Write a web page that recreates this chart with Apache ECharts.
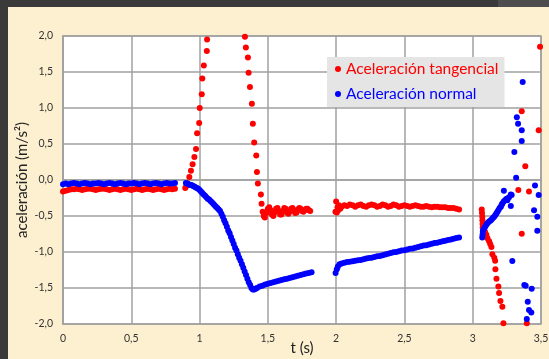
<!DOCTYPE html>
<html>
<head>
<meta charset="utf-8">
<script src="https://cdn.jsdelivr.net/npm/echarts@6/dist/echarts.min.js"></script>
<style>html,body{margin:0;padding:0;background:#fdf0d0;overflow:hidden;width:549px;height:359px;}#c{width:549px;height:359px;overflow:hidden;}</style>
</head>
<body>
<div id="c"></div>
<script>
// ---- data (t in s, acceleration in m/s^2) ----
const seriesNames = ['Aceleración tangencial', 'Aceleración normal'];
const xTickLabels = ['0', '0,5', '1', '1,5', '2', '2,5', '3', '3,5'];
const yTickLabels = ['-2,0', '-1,5', '-1,0', '-0,5', '0,0', '0,5', '1,0', '1,5', '2,0'];

const tangFlat = [[0,-0.16],[0.02,-0.15],[0.04,-0.14],[0.06,-0.13],[0.08,-0.13],[0.10,-0.12],[0.12,-0.13],[0.14,-0.14],[0.16,-0.13],[0.18,-0.12],[0.20,-0.12],[0.22,-0.13],[0.24,-0.14],[0.26,-0.13],[0.28,-0.12],[0.30,-0.12],[0.32,-0.13],[0.34,-0.14],[0.36,-0.13],[0.38,-0.12],[0.40,-0.13],[0.42,-0.14],[0.44,-0.13],[0.46,-0.12],[0.48,-0.13],[0.50,-0.14],[0.52,-0.13],[0.54,-0.12],[0.56,-0.13],[0.58,-0.14],[0.60,-0.13],[0.62,-0.12],[0.64,-0.13],[0.66,-0.14],[0.68,-0.13],[0.70,-0.12],[0.72,-0.13],[0.74,-0.14],[0.76,-0.13],[0.78,-0.12],[0.80,-0.13],[0.82,-0.12]];
const tangRise = [[0.895,-0.11],[0.905,-0.08],[0.912,-0.05],[0.925,0.04],[0.937,0.13],[0.949,0.22],[0.962,0.32],[0.974,0.43],[0.982,0.65],[0.997,0.79],[1.001,1.00],[1.016,1.19],[1.020,1.41],[1.031,1.59],[1.053,1.79],[1.055,1.95]];
const tangFall = [[1.332,1.99],[1.339,1.84],[1.354,1.70],[1.359,1.49],[1.369,1.29],[1.383,1.06],[1.390,0.78],[1.400,0.52],[1.415,0.34],[1.420,0.11],[1.427,-0.05],[1.449,-0.20],[1.454,-0.33]];
const tangOsc = [[1.462,-0.44],[1.470,-0.50],[1.478,-0.52],[1.490,-0.46],[1.500,-0.40],[1.510,-0.38],[1.520,-0.42],[1.530,-0.48],[1.540,-0.50],[1.550,-0.45],[1.560,-0.40],[1.570,-0.39],[1.580,-0.43],[1.590,-0.48],[1.600,-0.48],[1.610,-0.43],[1.620,-0.39],[1.630,-0.40],[1.640,-0.45],[1.650,-0.47],[1.660,-0.44],[1.670,-0.40],[1.680,-0.39],[1.690,-0.42],[1.700,-0.46],[1.710,-0.45],[1.720,-0.41],[1.730,-0.39],[1.740,-0.40],[1.750,-0.43],[1.760,-0.44],[1.770,-0.42],[1.780,-0.40],[1.790,-0.40],[1.800,-0.42],[1.810,-0.43]];
const tangMid = [[1.995,-0.44],[2.000,-0.30],[2.005,-0.45],[2.010,-0.38],[2.015,-0.42],[2.020,-0.35],[2.030,-0.40],[2.040,-0.37],[2.060,-0.35],[2.080,-0.36],[2.100,-0.34],[2.120,-0.35],[2.140,-0.37],[2.160,-0.35],[2.180,-0.34],[2.200,-0.36],[2.220,-0.37],[2.240,-0.35],[2.260,-0.34],[2.280,-0.35],[2.300,-0.37],[2.320,-0.36],[2.340,-0.34],[2.360,-0.35],[2.380,-0.37],[2.400,-0.36],[2.420,-0.34],[2.440,-0.35],[2.460,-0.37],[2.480,-0.36],[2.500,-0.35],[2.520,-0.36],[2.540,-0.37],[2.560,-0.36],[2.580,-0.35],[2.600,-0.36],[2.620,-0.37],[2.640,-0.37],[2.660,-0.36],[2.680,-0.37],[2.700,-0.38],[2.720,-0.37],[2.740,-0.37],[2.760,-0.38],[2.780,-0.38],[2.800,-0.38],[2.820,-0.39],[2.840,-0.39],[2.860,-0.39],[2.880,-0.40],[2.900,-0.41]];
const tangEnd = [[3.066,-0.41],[3.068,-0.46],[3.070,-0.51],[3.071,-0.56],[3.072,-0.61],[3.073,-0.66],[3.075,-0.71],[3.080,-0.75],[3.090,-0.72],[3.100,-0.76],[3.108,-0.81],[3.120,-0.85],[3.128,-0.89],[3.137,-0.93],[3.144,-1.03],[3.158,-1.08],[3.164,-1.12],[3.166,-1.24],[3.174,-1.37],[3.188,-1.48],[3.193,-1.57],[3.203,-1.68],[3.217,-1.76],[3.225,-1.99]];
const tangScatter = [[3.493,1.85],[3.359,0.955],[3.483,0.69],[3.385,0.19],[3.334,-0.14],[3.412,-0.16],[3.359,-0.745],[3.396,-1.99]];

const normFlat = [[0,-0.06],[0.02,-0.05],[0.04,-0.06],[0.06,-0.05],[0.08,-0.04],[0.10,-0.05],[0.12,-0.06],[0.14,-0.05],[0.16,-0.04],[0.18,-0.05],[0.20,-0.06],[0.22,-0.05],[0.24,-0.05],[0.26,-0.04],[0.28,-0.05],[0.30,-0.06],[0.32,-0.05],[0.34,-0.04],[0.36,-0.05],[0.38,-0.06],[0.40,-0.05],[0.42,-0.04],[0.44,-0.05],[0.46,-0.06],[0.48,-0.05],[0.50,-0.05],[0.52,-0.04],[0.54,-0.05],[0.56,-0.06],[0.58,-0.05],[0.60,-0.04],[0.62,-0.05],[0.64,-0.06],[0.66,-0.05],[0.68,-0.04],[0.70,-0.05],[0.72,-0.06],[0.74,-0.05],[0.76,-0.04],[0.78,-0.05],[0.80,-0.05],[0.82,-0.04]];
const normFall = [[0.900,-0.04],[0.910,-0.05],[0.920,-0.06],[0.930,-0.07],[0.940,-0.07],[0.950,-0.08],[0.960,-0.09],[0.970,-0.10],[0.980,-0.11],[0.990,-0.12],[1.000,-0.14],[1.010,-0.16],[1.020,-0.18],[1.030,-0.20],[1.040,-0.22],[1.050,-0.24],[1.060,-0.26],[1.070,-0.27],[1.080,-0.29],[1.090,-0.31],[1.100,-0.33],[1.110,-0.35],[1.120,-0.37],[1.130,-0.39],[1.140,-0.41],[1.150,-0.43],[1.160,-0.47],[1.170,-0.51],[1.180,-0.56],[1.190,-0.60],[1.200,-0.65],[1.210,-0.70],[1.220,-0.74],[1.230,-0.79],[1.240,-0.84],[1.250,-0.89],[1.260,-0.94],[1.270,-0.98],[1.280,-1.03],[1.290,-1.08],[1.300,-1.12],[1.310,-1.17],[1.320,-1.22],[1.330,-1.27],[1.340,-1.32],[1.350,-1.37],[1.360,-1.42],[1.370,-1.46],[1.380,-1.50],[1.390,-1.52]];
const normRise1 = [[1.400,-1.52],[1.410,-1.51],[1.420,-1.50],[1.440,-1.48],[1.460,-1.47],[1.480,-1.45],[1.500,-1.44],[1.520,-1.43],[1.540,-1.42],[1.560,-1.41],[1.580,-1.40],[1.600,-1.39],[1.620,-1.38],[1.640,-1.37],[1.660,-1.36],[1.680,-1.35],[1.700,-1.34],[1.720,-1.33],[1.740,-1.32],[1.760,-1.31],[1.780,-1.30],[1.800,-1.29],[1.820,-1.28]];
const normRise2 = [[1.996,-1.29],[2.005,-1.24],[2.013,-1.20],[2.025,-1.17],[2.040,-1.16],[2.060,-1.15],[2.080,-1.14],[2.100,-1.135],[2.120,-1.13],[2.140,-1.12],[2.160,-1.115],[2.180,-1.11],[2.200,-1.10],[2.220,-1.09],[2.240,-1.085],[2.260,-1.08],[2.280,-1.07],[2.300,-1.06],[2.320,-1.055],[2.340,-1.045],[2.360,-1.035],[2.380,-1.025],[2.400,-1.015],[2.420,-1.005],[2.440,-1.00],[2.460,-0.99],[2.480,-0.98],[2.500,-0.975],[2.520,-0.965],[2.540,-0.955],[2.560,-0.95],[2.580,-0.94],[2.600,-0.93],[2.620,-0.92],[2.640,-0.91],[2.660,-0.905],[2.680,-0.895],[2.700,-0.885],[2.720,-0.875],[2.740,-0.87],[2.760,-0.86],[2.780,-0.85],[2.800,-0.845],[2.820,-0.835],[2.840,-0.825],[2.860,-0.815],[2.880,-0.805],[2.900,-0.80]];
const normEnd = [[3.070,-0.80],[3.072,-0.76],[3.074,-0.72],[3.078,-0.69],[3.084,-0.67],[3.092,-0.645],[3.100,-0.62],[3.108,-0.60],[3.116,-0.585],[3.125,-0.57],[3.133,-0.56],[3.141,-0.54],[3.149,-0.525],[3.157,-0.51],[3.165,-0.49],[3.173,-0.465],[3.181,-0.44],[3.189,-0.415],[3.197,-0.39],[3.206,-0.37],[3.212,-0.345],[3.217,-0.325],[3.227,-0.30],[3.237,-0.28],[3.246,-0.265],[3.254,-0.256],[3.266,-0.24],[3.279,-0.20],[3.285,-0.21],[3.228,-0.15],[3.279,-0.36],[3.254,-0.28]];
const normScatter = [[3.366,1.36],[3.323,0.87],[3.332,0.78],[3.359,0.69],[3.359,0.54],[3.305,0.39],[3.318,0.03],[3.456,-0.076],[3.483,-0.21],[3.449,-0.42],[3.473,-0.51],[3.473,-0.705],[3.290,-1.125],[3.378,-1.46],[3.388,-1.47],[3.432,-1.51],[3.403,-1.69],[3.412,-1.805],[3.429,-1.84],[3.396,-1.93]];

const tangData = [].concat(tangFlat, tangRise, tangFall, tangOsc, tangMid, tangEnd, tangScatter);
const normData = [].concat(normFlat, normFall, normRise1, normRise2, normEnd, normScatter);

const FONT = 'Lato';
const chart = echarts.init(document.getElementById('c'), null, {renderer: 'canvas'});
chart.setOption({
  animation: false,
  backgroundColor: '#fdf0d0',
  textStyle: {fontFamily: FONT},
  graphic: [
    {type: 'rect', z: -10, silent: true, shape: {x: 0, y: 0, width: 549, height: 7}, style: {fill: '#3a3a3a'}},
    {type: 'rect', z: -10, silent: true, shape: {x: 498, y: 0, width: 51, height: 7}, style: {fill: '#4d4d4d'}},
    {type: 'rect', z: -10, silent: true, shape: {x: 0, y: 0, width: 8, height: 359}, style: {fill: '#3a3a3a'}},
    {type: 'rect', z: 100, silent: true, shape: {x: 543, y: 240, width: 6, height: 90}, style: {fill: '#fdf0d0'}}
  ],
  grid: {left: 63, right: 8, top: 36, bottom: 35, containLabel: false, outerBoundsMode: 'none',
    show: true, backgroundColor: '#ffffff', borderColor: '#a0a0a0', borderWidth: 1.5},
  legend: {
    left: 327, top: 57, orient: 'vertical',
    backgroundColor: '#e5e5e5', padding: [4, 6, 5, 8], itemGap: 9,
    icon: 'circle', itemWidth: 6, itemHeight: 6,
    textStyle: {fontFamily: FONT, fontSize: 15.5, lineHeight: 16},
    data: [
      {name: seriesNames[0], textStyle: {color: '#ff0000'}},
      {name: seriesNames[1], textStyle: {color: '#0000ff'}}
    ]
  },
  xAxis: {
    type: 'value', min: 0, max: 3.5, interval: 0.5,
    name: 't (s)', nameLocation: 'middle', nameGap: 17, nameMoveOverlap: false,
    nameTextStyle: {fontFamily: FONT, fontSize: 15, color: '#222'},
    axisLine: {show: true, lineStyle: {color: '#a0a0a0', width: 1.5}},
    axisTick: {show: false},
    splitLine: {show: true, lineStyle: {color: '#a0a0a0', width: 1.5}},
    axisLabel: {fontFamily: FONT, fontSize: 10.5, color: '#333', margin: 9,
      formatter: v => xTickLabels[Math.round(v / 0.5)]}
  },
  yAxis: {
    type: 'value', min: -2, max: 2, interval: 0.5,
    name: 'aceleración (m/s²)', nameLocation: 'middle', nameGap: 33, nameMoveOverlap: false,
    nameTextStyle: {fontFamily: FONT, fontSize: 15, color: '#222'},
    axisLine: {show: true, lineStyle: {color: '#a0a0a0', width: 1.5}},
    axisTick: {show: false},
    splitLine: {show: true, lineStyle: {color: '#a0a0a0', width: 1.5}},
    axisLabel: {fontFamily: FONT, fontSize: 10.5, color: '#333', margin: 10,
      formatter: v => yTickLabels[Math.round((v + 2) / 0.5)]}
  },
  series: [
    {name: seriesNames[0], type: 'scatter', symbol: 'circle', symbolSize: 6, itemStyle: {color: '#ff0000', opacity: 1}, data: tangData},
    {name: seriesNames[1], type: 'scatter', symbol: 'circle', symbolSize: 6, itemStyle: {color: '#0000ff', opacity: 1}, data: normData}
  ]
});
</script>
</body>
</html>
